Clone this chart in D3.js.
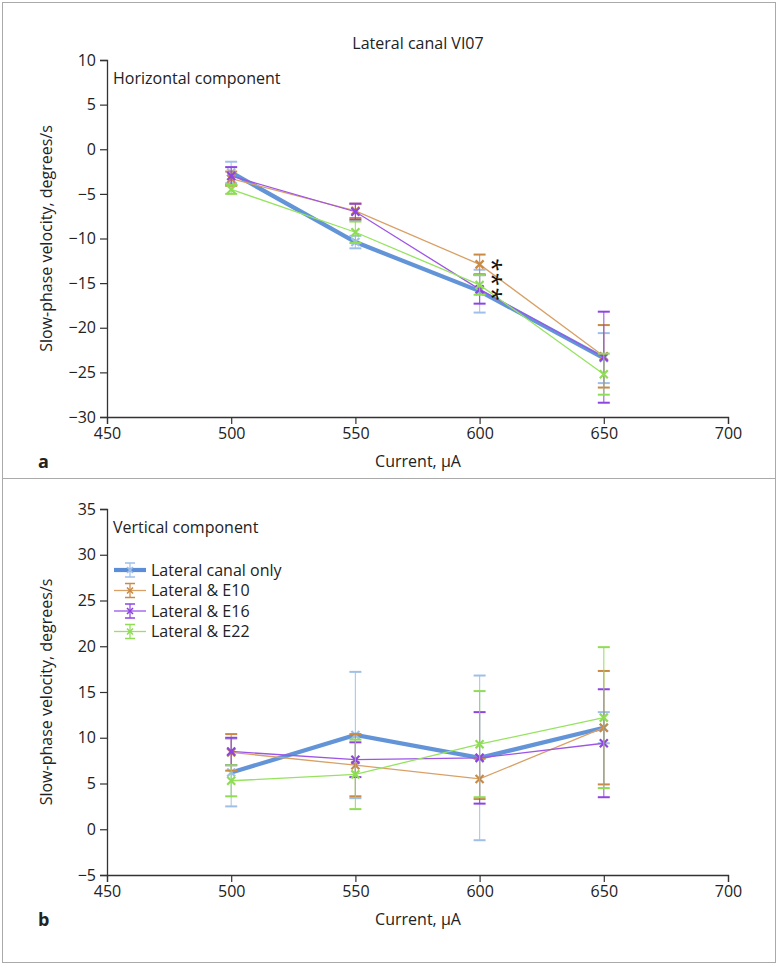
<!DOCTYPE html>
<html><head><meta charset="utf-8">
<script src="https://cdn.jsdelivr.net/npm/d3@7"></script>
<style>
body{margin:0;background:#fff;}
text{font-family:"Open Sans","Noto Sans",sans-serif;fill:#222;}
</style></head>
<body><svg id="c" width="779" height="967"></svg>
<script>
const currents = [500, 550, 600, 650];
const seriesNames = ["Lateral canal only", "Lateral & E10", "Lateral & E16", "Lateral & E22"];
const xTicks = [450, 500, 550, 600, 650, 700];
const yTicksTop = [10, 5, 0, -5, -10, -15, -20, -25, -30];
const yTicksBottom = [35, 30, 25, 20, 15, 10, 5, 0, -5];

// Horizontal component (panel a)
const hBlue = [-2.6, -10.4, -15.9, -23.4];
const hBlueErr = [1.2, 0.7, 2.4, 2.8];
const hOrange = [-3.3, -6.9, -12.9, -23.2];
const hOrangeErr = [0.8, 0.8, 1.1, 3.5];
const hPurple = [-3.0, -7.0, -15.7, -23.3];
const hPurpleErr = [1.0, 0.9, 1.6, 5.1];
const hGreen = [-4.5, -9.3, -15.2, -25.2];
const hGreenErr = [0.5, 1.2, 1.1, 2.3];

// Vertical component (panel b)
const vBlue = [6.2, 10.3, 7.8, 11.1];
const vBlueErr = [3.7, 6.9, 9.0, 1.7];
const vOrange = [8.4, 7.0, 5.5, 11.1];
const vOrangeErr = [2.0, 3.4, 2.2, 6.2];
const vPurple = [8.5, 7.6, 7.8, 9.4];
const vPurpleErr = [1.5, 1.9, 5.0, 5.9];
const vGreen = [5.3, 6.0, 9.3, 12.2];
const vGreenErr = [1.7, 3.8, 5.8, 7.7];

const styles = [
  {line:"#5b8ed6", err:"#9fbfe8", w:4.2, op:0.95},
  {line:"#d9a066", err:"#c98a45", w:1.3, op:1},
  {line:"#9d55e6", err:"#8f44e0", w:1.3, op:1},
  {line:"#95e35f", err:"#8fdc55", w:1.3, op:1}
];

const FS = "16px";
const svg = d3.select("#c");
svg.append("rect").attr("x",2.5).attr("y",2.5).attr("width",773).attr("height",960)
  .attr("fill","none").attr("stroke","#aaa").attr("stroke-width",1);
svg.append("line").attr("x1",2.5).attr("x2",775.5).attr("y1",478.5).attr("y2",478.5)
  .attr("stroke","#aaa").attr("stroke-width",1);

function panel(opts){
  const x = d3.scaleLinear().domain([450,700]).range([107,728]);
  const y = d3.scaleLinear().domain(opts.ydom).range(opts.yrange);
  const g = svg.append("g");
  const xa = g.append("g").attr("transform",`translate(0,${opts.yrange[0]})`)
    .call(d3.axisBottom(x).tickValues(xTicks).tickSize(7).tickPadding(4).tickFormat(d3.format("d")));
  const ya = g.append("g").attr("transform",`translate(107,0)`)
    .call(d3.axisLeft(y).tickValues(opts.yticks).tickSize(7).tickPadding(4)
      .tickFormat(d => d < 0 ? "\u2212" + Math.abs(d) : d));
  [xa, ya].forEach(a => {
    a.select(".domain").attr("stroke","#333").attr("stroke-width",1.3);
    a.selectAll(".tick line").attr("stroke","#333").attr("stroke-width",1.2);
    a.selectAll("text").style("font-size",FS).attr("fill","#222");
  });
  g.append("text").attr("x",113).attr("y",opts.yrange[1]+24).style("font-size",FS).text(opts.label);
  g.append("text").attr("x",418).attr("y",opts.yrange[0]+50).attr("text-anchor","middle")
    .style("font-size",FS).text("Current, \u03bcA");
  g.append("text").attr("transform",`translate(52,${(opts.yrange[0]+opts.yrange[1])/2}) rotate(-90)`)
    .attr("text-anchor","middle").style("font-size",FS).text("Slow-phase velocity, degrees/s");
  g.append("text").attr("x",38).attr("y",opts.yrange[0]+51).style("font-size","18px")
    .style("font-weight","bold").text(opts.letter);

  [0,1,2,3].forEach(i => {
    const vals = opts.series[i], errs = opts.errs[i], st = styles[i];
    const pts = currents.map((c,k) => ({x:c, v:vals[k], e:errs[k]}));
    const eg = g.append("g");
    pts.forEach(p => {
      const xp = x(p.x);
      eg.append("line").attr("x1",xp).attr("x2",xp).attr("y1",y(p.v+p.e)).attr("y2",y(p.v-p.e))
        .attr("stroke",st.err).attr("stroke-width",1.2).attr("opacity",0.8);
      [p.v+p.e, p.v-p.e].forEach(v => eg.append("line").attr("x1",xp-6).attr("x2",xp+6)
        .attr("y1",y(v)).attr("y2",y(v)).attr("stroke",st.err).attr("stroke-width",2));
    });
    g.append("path").datum(pts).attr("fill","none").attr("stroke",st.line)
      .attr("stroke-width",st.w).attr("opacity",st.op)
      .attr("d", d3.line().x(d=>x(d.x)).y(d=>y(d.v)));
    pts.forEach(p => {
      const xp = x(p.x), yp = y(p.v), s = 4;
      g.append("path").attr("d",`M${xp-s},${yp-s}L${xp+s},${yp+s}M${xp-s},${yp+s}L${xp+s},${yp-s}`)
        .attr("stroke",st.err).attr("stroke-width",2.2);
    });
  });
  return {x, y, g};
}

const panelA = panel({ydom:[-30,10], yrange:[417,60], yticks:yTicksTop, label:"Horizontal component", letter:"a",
  series:[hBlue,hOrange,hPurple,hGreen], errs:[hBlueErr,hOrangeErr,hPurpleErr,hGreenErr]});
svg.append("text").attr("x",418).attr("y",49).attr("text-anchor","middle").style("font-size",FS).text("Lateral canal VI07");

// significance asterisks: one vertical stack of three
const starTop = -12.2;
svg.append("text")
  .attr("transform",`translate(${panelA.x(605)-8},${panelA.y(starTop)}) rotate(90)`)
  .style("font-size","24px").style("letter-spacing","1.5px").style("fill","#111").text("***");

const panelB = panel({ydom:[-5,35], yrange:[875,509], yticks:yTicksBottom, label:"Vertical component", letter:"b",
  series:[vBlue,vOrange,vPurple,vGreen], errs:[vBlueErr,vOrangeErr,vPurpleErr,vGreenErr]});

const lg = svg.append("g");
seriesNames.forEach((n,i) => {
  const yy = 570 + i*20.5, st = styles[i];
  lg.append("line").attr("x1",114).attr("x2",146).attr("y1",yy).attr("y2",yy)
    .attr("stroke",st.line).attr("stroke-width",st.w);
  lg.append("line").attr("x1",130).attr("x2",130).attr("y1",yy-7).attr("y2",yy+7).attr("stroke",st.err).attr("stroke-width",1.2);
  [yy-7,yy+7].forEach(v=>lg.append("line").attr("x1",125).attr("x2",135).attr("y1",v).attr("y2",v).attr("stroke",st.err).attr("stroke-width",1.5));
  lg.append("path").attr("d",`M127,${yy-3}L133,${yy+3}M127,${yy+3}L133,${yy-3}`).attr("stroke",st.err).attr("stroke-width",1.6);
  lg.append("text").attr("x",151).attr("y",yy+5.5).style("font-size",FS).text(n);
});
</script></body></html>
